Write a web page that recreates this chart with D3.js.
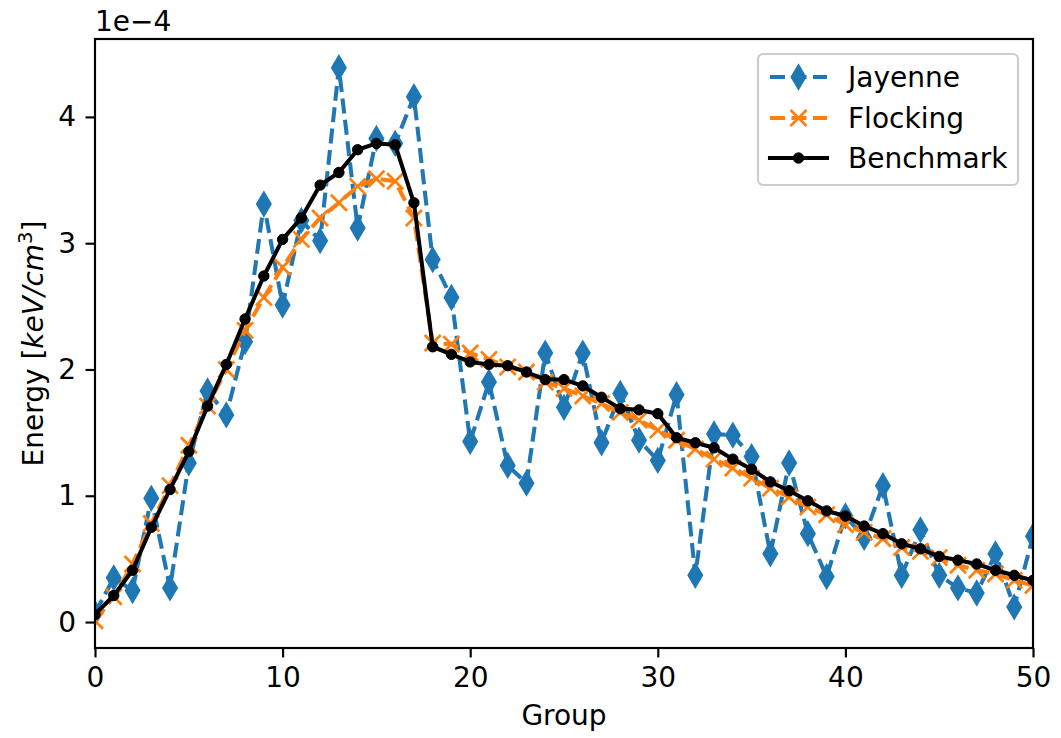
<!DOCTYPE html>
<html>
<head>
<meta charset="utf-8">
<script src="https://cdn.jsdelivr.net/npm/d3@7"></script>
<style>
  body { margin: 0; background: #fff; }
  svg text { font-family: "DejaVu Sans", sans-serif; fill: #000; }
</style>
</head>
<body>
<div id="chart"></div>
<script>
// chart values (units of 1e-4)
var groups = d3.range(0, 51);

var jayenne = [0.07, 0.35, 0.25, 0.98, 0.27, 1.26, 1.83, 1.64, 2.22, 3.31,
  2.51, 3.18, 3.02, 4.39, 3.12, 3.83, 3.79, 4.16, 2.87, 2.57,
  1.43, 1.90, 1.24, 1.10, 2.13, 1.70, 2.13, 1.42, 1.81, 1.44,
  1.28, 1.80, 0.37, 1.49, 1.48, 1.31, 0.54, 1.26, 0.70, 0.36,
  0.84, 0.67, 1.08, 0.37, 0.73, 0.37, 0.27, 0.23, 0.54, 0.12, 0.68];

var flocking = [0.01, 0.20, 0.46, 0.78, 1.08, 1.40, 1.71, 2.00, 2.31, 2.57,
  2.81, 3.03, 3.20, 3.32, 3.45, 3.51, 3.49, 3.20, 2.21, 2.20,
  2.13, 2.08, 2.02, 1.98, 1.90, 1.85, 1.79, 1.73, 1.66, 1.60,
  1.52, 1.44, 1.37, 1.29, 1.22, 1.14, 1.06, 0.99, 0.91, 0.85,
  0.77, 0.71, 0.66, 0.59, 0.56, 0.51, 0.45, 0.41, 0.38, 0.33, 0.29];

var benchmark = [0.06, 0.21, 0.41, 0.75, 1.05, 1.35, 1.71, 2.04, 2.40, 2.74,
  3.03, 3.20, 3.46, 3.56, 3.74, 3.79, 3.78, 3.32, 2.18, 2.12,
  2.06, 2.04, 2.03, 1.98, 1.92, 1.92, 1.87, 1.78, 1.69, 1.68,
  1.65, 1.46, 1.42, 1.38, 1.29, 1.21, 1.11, 1.04, 0.96, 0.88,
  0.84, 0.76, 0.70, 0.62, 0.58, 0.52, 0.49, 0.46, 0.41, 0.37, 0.33];

var xTicks = [0, 10, 20, 30, 40, 50];
var yTicks = [0, 1, 2, 3, 4];

var seriesNames = ['Jayenne', 'Flocking', 'Benchmark'];

// layout
var svgWidth = 1061;
var svgHeight = 738;
var margin = { top: 39, right: 28, bottom: 90, left: 95 };
var width = svgWidth - margin.left - margin.right;
var height = svgHeight - margin.top - margin.bottom;
var pt = 2.7; // px per point
var fontSize = 28;

var svg = d3.select('#chart')
  .append('svg')
  .attr('width', svgWidth)
  .attr('height', svgHeight);

var chartGroup = svg.append('g')
  .attr('transform', `translate(${margin.left}, ${margin.top})`);

var xScale = d3.scaleLinear().domain([0, 50]).range([0, width]);
var yScale = d3.scaleLinear().domain([-0.2055, 4.617]).range([height, 0]);

svg.append('defs').append('clipPath')
  .attr('id', 'plotClip')
  .append('rect')
  .attr('width', width)
  .attr('height', height);

// axes
var bottomAxis = d3.axisBottom(xScale)
  .tickValues(xTicks)
  .tickSize(3.5 * pt)
  .tickPadding(3.5 * pt)
  .tickFormat(d3.format('d'));

var leftAxis = d3.axisLeft(yScale)
  .tickValues(yTicks)
  .tickSize(3.5 * pt)
  .tickPadding(3.5 * pt)
  .tickFormat(d3.format('d'));

var xAxis = chartGroup.append('g')
  .attr('transform', `translate(0, ${height})`)
  .call(bottomAxis);

var yAxis = chartGroup.append('g')
  .call(leftAxis);

[xAxis, yAxis].forEach(function(ax) {
  ax.select('.domain').remove();
  ax.selectAll('.tick line').attr('stroke', '#000').attr('stroke-width', 0.8 * pt);
  ax.selectAll('.tick text')
    .attr('font-size', fontSize)
    .attr('font-family', 'DejaVu Sans');
});

// series
var lineGen = d3.line()
  .x((d, i) => xScale(groups[i]))
  .y(d => yScale(d));

var plot = chartGroup.append('g').attr('clip-path', 'url(#plotClip)');

function diamondPath(w, h) {
  return `M0,${-h / 2}L${w / 2},0L0,${h / 2}L${-w / 2},0Z`;
}
function crossPath(s) {
  return `M${-s},${-s}L${s},${s}M${-s},${s}L${s},${-s}`;
}

function drawMarker(g, type, color) {
  if (type === 'diamond') {
    g.append('path')
      .attr('d', diamondPath(13, 22))
      .attr('fill', color)
      .attr('stroke', color)
      .attr('stroke-width', pt)
      .attr('stroke-linejoin', 'miter');
  } else if (type === 'cross') {
    g.append('path')
      .attr('d', crossPath(8))
      .attr('fill', 'none')
      .attr('stroke', color)
      .attr('stroke-width', pt);
  } else {
    g.append('circle')
      .attr('r', 5.2)
      .attr('fill', color)
      .attr('stroke', color)
      .attr('stroke-width', 1);
  }
}

var series = [
  { name: 'Jayenne', values: jayenne, color: '#1f77b4', dash: `${3.7 * 1.5 * pt},${1.6 * 1.5 * pt}`, marker: 'diamond' },
  { name: 'Flocking', values: flocking, color: '#ff7f0e', dash: `${3.7 * 1.5 * pt},${1.6 * 1.5 * pt}`, marker: 'cross' },
  { name: 'Benchmark', values: benchmark, color: '#000000', dash: null, marker: 'dot' }
];

series.forEach(function(s) {
  var g = plot.append('g');
  g.append('path')
    .datum(s.values)
    .attr('d', lineGen)
    .attr('fill', 'none')
    .attr('stroke', s.color)
    .attr('stroke-width', 1.5 * pt)
    .attr('stroke-linejoin', 'round')
    .attr('stroke-linecap', s.dash ? 'butt' : 'square')
    .attr('stroke-dasharray', s.dash);
  g.selectAll('.mk')
    .data(s.values)
    .enter()
    .append('g')
    .attr('transform', (d, i) => `translate(${xScale(groups[i])}, ${yScale(d)})`)
    .each(function() { drawMarker(d3.select(this), s.marker, s.color); });
});

// frame
chartGroup.append('rect')
  .attr('width', width)
  .attr('height', height)
  .attr('fill', 'none')
  .attr('stroke', '#000')
  .attr('stroke-width', 0.8 * pt);

// offset text
svg.append('text')
  .attr('x', margin.left)
  .attr('y', 31)
  .attr('font-size', fontSize)
  .text('1e\u22124');

// axis labels
svg.append('text')
  .attr('x', margin.left + width / 2)
  .attr('y', 725)
  .attr('text-anchor', 'middle')
  .attr('font-size', fontSize)
  .text('Group');

var yLabel = svg.append('text')
  .attr('transform', `translate(43, ${margin.top + height / 2}) rotate(-90)`)
  .attr('text-anchor', 'middle')
  .attr('font-size', fontSize);
yLabel.append('tspan').text('Energy [');
yLabel.append('tspan').attr('font-style', 'italic').text('keV/cm');
yLabel.append('tspan').attr('font-size', fontSize * 0.7).attr('dy', -11).text('3');
yLabel.append('tspan').attr('dy', 11).text(']');

// legend
var legend = svg.append('g').attr('transform', 'translate(758, 54)');
legend.append('rect')
  .attr('width', 260)
  .attr('height', 131)
  .attr('rx', 5)
  .attr('fill', 'rgba(255,255,255,0.8)')
  .attr('stroke', '#cccccc')
  .attr('stroke-width', 0.8 * pt);

var rowY = [23, 64, 104];
series.forEach(function(s, i) {
  var row = legend.append('g').attr('transform', `translate(0, ${rowY[i]})`);
  row.append('line')
    .attr('x1', 12)
    .attr('x2', 69)
    .attr('stroke', s.color)
    .attr('stroke-width', 1.5 * pt)
    .attr('stroke-linecap', s.dash ? 'butt' : 'square')
    .attr('stroke-dasharray', s.dash);
  var m = row.append('g').attr('transform', 'translate(40.5, 0)');
  drawMarker(m, s.marker, s.color);
  row.append('text')
    .attr('x', 90)
    .attr('y', 10)
    .attr('font-size', fontSize)
    .text(seriesNames[i]);
});
</script>
</body>
</html>
